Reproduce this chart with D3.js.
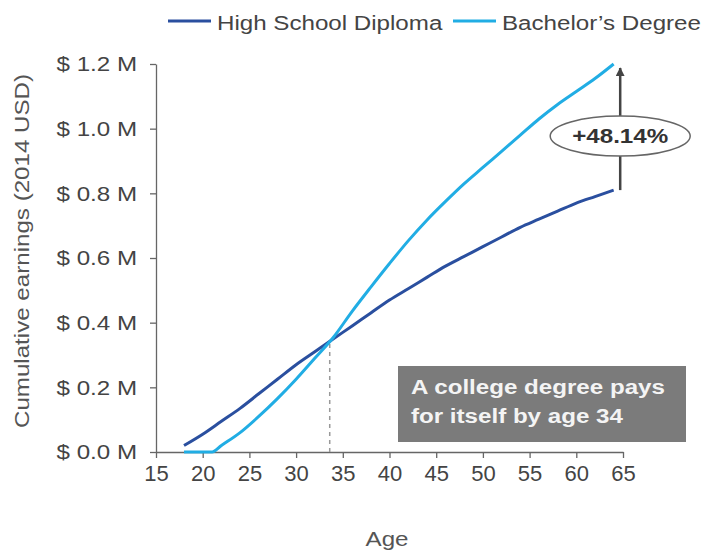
<!DOCTYPE html>
<html>
<head>
<meta charset="utf-8">
<script src="https://cdn.jsdelivr.net/npm/d3@7"></script>
<style>
  body { margin: 0; background: #fff; }
  text { font-family: "Liberation Sans", Arial, sans-serif; }
</style>
</head>
<body>
<script>
// ages and cumulative earnings (millions of 2014 USD)
const hsAges = [18, 20, 22, 24, 26, 28, 30, 32, 34, 36, 38, 40, 42, 44, 46, 48, 50, 52, 54, 56, 58, 60, 62, 64];
const hsValues = [0.02, 0.055, 0.095, 0.135, 0.18, 0.225, 0.27, 0.31, 0.35, 0.39, 0.43, 0.47, 0.505, 0.54, 0.575, 0.605, 0.635, 0.665, 0.695, 0.72, 0.745, 0.77, 0.79, 0.81];

const baAges = [18, 21, 22, 24, 26, 28, 30, 32, 34, 36, 38, 40, 42, 44, 46, 48, 50, 52, 54, 56, 58, 60, 62, 64];
const baValues = [0, 0, 0.02, 0.06, 0.11, 0.165, 0.225, 0.29, 0.355, 0.435, 0.51, 0.583, 0.653, 0.717, 0.775, 0.83, 0.88, 0.93, 0.98, 1.03, 1.075, 1.115, 1.155, 1.2];

const xTicks = [15, 20, 25, 30, 35, 40, 45, 50, 55, 60, 65];
const yTicks = [0, 0.2, 0.4, 0.6, 0.8, 1.0, 1.2];

const seriesNames = ["High School Diploma", "Bachelor\u2019s Degree"];
const seriesColors = ["#2a4f9f", "#21ade4"];

const breakEvenAge = 33.6;
const breakEvenValue = 0.34;
const arrowAge = 64.7;
const premiumLabel = "+48.14%";
const boxLines = ["A college degree pays", "for itself by age 34"];

const width = 704, height = 554;
const stretch = 1.15; // the original text is a bit wider than Arial

const svg = d3.select("body").append("svg")
  .attr("width", width)
  .attr("height", height);

const x = d3.scaleLinear().domain([15, 65]).range([156, 623]);
const y = d3.scaleLinear().domain([0, 1.2]).range([452, 64]);

// axes
const xAxis = svg.append("g")
  .attr("transform", `translate(0, ${y(0)})`)
  .call(d3.axisBottom(x).tickValues(xTicks).tickSize(6).tickSizeOuter(0).tickPadding(7));

const yAxis = svg.append("g")
  .attr("transform", `translate(${x(15)}, 0)`)
  .call(d3.axisLeft(y).tickValues(yTicks).tickSize(6).tickSizeOuter(0).tickPadding(10.5)
    .tickFormat(d => "$ " + d.toFixed(1) + " M"));

[xAxis, yAxis].forEach(g => {
  g.selectAll("path, line").attr("stroke", "#666").attr("stroke-width", 1.3);
  g.selectAll("text").attr("fill", "#444");
});
xAxis.selectAll("text").style("font-size", "22px");
yAxis.selectAll("text")
  .style("font-size", "21px")
  .attr("transform", `scale(${stretch}, 1)`);

// axis titles
svg.append("text")
  .attr("transform", `translate(387, 546) scale(${stretch}, 1)`)
  .attr("text-anchor", "middle")
  .attr("fill", "#555")
  .style("font-size", "21px")
  .text("Age");

svg.append("text")
  .attr("transform", `translate(29, 251) rotate(-90) scale(${stretch}, 1)`)
  .attr("text-anchor", "middle")
  .attr("fill", "#555")
  .style("font-size", "21px")
  .text("Cumulative earnings (2014 USD)");

// break-even dashed line
svg.append("line")
  .attr("x1", x(breakEvenAge)).attr("x2", x(breakEvenAge))
  .attr("y1", y(0)).attr("y2", y(breakEvenValue))
  .attr("stroke", "#999")
  .attr("stroke-width", 1.5)
  .attr("stroke-dasharray", "4,4");

// lines
const line = d3.line()
  .x(d => x(d[0]))
  .y(d => y(d[1]))
  .curve(d3.curveMonotoneX);

const series = [
  hsAges.map((a, i) => [a, hsValues[i]]),
  baAges.map((a, i) => [a, baValues[i]])
];

svg.selectAll(".series")
  .data(series)
  .enter()
  .append("path")
  .attr("class", "series")
  .attr("fill", "none")
  .attr("stroke", (d, i) => seriesColors[i])
  .attr("stroke-width", 3)
  .attr("d", line);

// premium arrow
svg.append("defs").append("marker")
  .attr("id", "head")
  .attr("viewBox", "0 0 10 10")
  .attr("refX", 9).attr("refY", 5)
  .attr("markerWidth", 3.5).attr("markerHeight", 3.5)
  .attr("orient", "auto")
  .append("path")
  .attr("d", "M0,0 L10,5 L0,10 Z")
  .attr("fill", "#444");

svg.append("line")
  .attr("x1", x(arrowAge)).attr("x2", x(arrowAge))
  .attr("y1", y(hsValues[hsValues.length - 1])).attr("y2", y(baValues[baValues.length - 1]) + 4)
  .attr("stroke", "#444")
  .attr("stroke-width", 2.5)
  .attr("marker-end", "url(#head)");

const midY = (y(hsValues[hsValues.length - 1]) + y(baValues[baValues.length - 1])) / 2;

svg.append("ellipse")
  .attr("cx", x(arrowAge)).attr("cy", midY + 9)
  .attr("rx", 70).attr("ry", 20)
  .attr("fill", "#fff")
  .attr("stroke", "#666")
  .attr("stroke-width", 1.5);

svg.append("text")
  .attr("transform", `translate(${x(arrowAge)}, ${midY + 16}) scale(${stretch}, 1)`)
  .attr("text-anchor", "middle")
  .attr("fill", "#333")
  .style("font-size", "21px")
  .style("font-weight", "bold")
  .text(premiumLabel);

// callout box
svg.append("rect")
  .attr("x", 398).attr("y", 366)
  .attr("width", 288).attr("height", 76)
  .attr("fill", "#7b7b7b");

svg.append("g")
  .attr("transform", `translate(411, 394) scale(${stretch}, 1)`)
  .selectAll("text")
  .data(boxLines)
  .enter()
  .append("text")
  .attr("y", (d, i) => i * 29)
  .attr("fill", "#f4f4f4")
  .style("font-size", "21px")
  .style("font-weight", "bold")
  .text(d => d);

// legend
const legendX = [168, 453];
const legend = svg.selectAll(".legend")
  .data(seriesNames)
  .enter()
  .append("g")
  .attr("class", "legend")
  .attr("transform", (d, i) => `translate(${legendX[i]}, 21)`);

legend.append("line")
  .attr("x1", 0).attr("x2", 43)
  .attr("stroke", (d, i) => seriesColors[i])
  .attr("stroke-width", 3);

legend.append("text")
  .attr("transform", `translate(49, 9) scale(${stretch}, 1)`)
  .attr("fill", "#444")
  .style("font-size", "21px")
  .text(d => d);
</script>
</body>
</html>
